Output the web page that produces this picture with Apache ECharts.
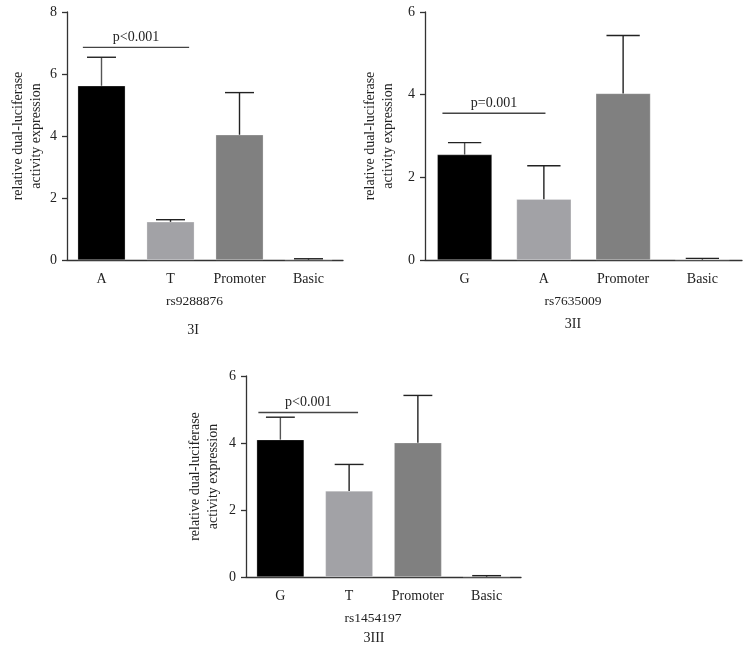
<!DOCTYPE html>
<html>
<head>
<meta charset="utf-8">
<script src="https://cdn.jsdelivr.net/npm/echarts@6/dist/echarts.min.js"></script>
<style>html,body{margin:0;padding:0;background:#fff;}#c{width:754px;height:650px;}</style>
</head>
<body>
<div id="c"></div>
<script>
// ---- data ----
const cats1 = ['A', 'T', 'Promoter', 'Basic'];
const means1 = [5.62, 1.23, 4.04, 0.01];
const errs1 = [0.92, 0.07, 1.36, 0.03];
const sig1 = { from: -0.27, to: 1.27, y: 6.86, text: 'p<0.001' };
const snp1 = 'rs9288876';
const panel1 = '3I';

const cats2 = ['G', 'A', 'Promoter', 'Basic'];
const means2 = [2.55, 1.47, 4.03, 0.01];
const errs2 = [0.29, 0.81, 1.40, 0.03];
const sig2 = { from: -0.28, to: 1.02, y: 3.55, text: 'p=0.001' };
const snp2 = 'rs7635009';
const panel2 = '3II';

const cats3 = ['G', 'T', 'Promoter', 'Basic'];
const means3 = [4.10, 2.57, 4.01, 0.01];
const errs3 = [0.67, 0.79, 1.41, 0.03];
const sig3 = { from: -0.32, to: 1.13, y: 4.91, text: 'p<0.001' };
const snp3 = 'rs1454197';
const panel3 = '3III';

const yMax = [8, 6, 6];
const yName = 'relative dual-luciferase\nactivity expression';

// ---- styles ----
const barColors = ['#000000', '#a2a2a6', '#808080', '#222222'];
const FONT = 'Liberation Serif';
const TXT = '#222';
const AX = '#333';

const panels = [
  { cats: cats1, means: means1, errs: errs1, sig: sig1, snp: snp1, label: panel1,
    grid: { left: 67, top: 12, width: 276, height: 248 }, nameGap: 22, shift: 21, lab: [193, 330] },
  { cats: cats2, means: means2, errs: errs2, sig: sig2, snp: snp2, label: panel2,
    grid: { left: 425, top: 12, width: 317, height: 248 }, nameGap: 28, shift: 21, lab: [573, 324] },
  { cats: cats3, means: means3, errs: errs3, sig: sig3, snp: snp3, label: panel3,
    grid: { left: 246, top: 376, width: 275, height: 201 }, nameGap: 24, shift: 21, lab: [374, 638] }
];

const grids = [], xAxes = [], yAxes = [], series = [], graphics = [];
panels.forEach((p, k) => {
  grids.push(Object.assign({ containLabel: false }, p.grid));
  xAxes.push({
    type: 'category', gridIndex: k, data: p.cats,
    name: p.snp, nameLocation: 'middle', nameGap: 34,
    nameTextStyle: { fontFamily: FONT, fontSize: 13.5, color: TXT, padding: [0, p.shift, 0, 0] },
    axisLine: { lineStyle: { color: AX, width: 1.3 } },
    axisTick: { alignWithLabel: true, length: 7, lineStyle: { color: AX, width: 1.3 } },
    axisLabel: { fontFamily: FONT, fontSize: 14, color: TXT, margin: 12 }
  });
  yAxes.push({
    type: 'value', gridIndex: k, min: 0, max: yMax[k], interval: 2,
    name: yName, nameLocation: 'middle', nameRotate: 90, nameGap: p.nameGap,
    nameTextStyle: { fontFamily: FONT, fontSize: 14, color: TXT, lineHeight: 18 },
    axisLine: { show: true, lineStyle: { color: AX, width: 1.3 } },
    axisTick: { show: true, length: 5, lineStyle: { color: AX, width: 1.3 } },
    axisLabel: { fontFamily: FONT, fontSize: 14, color: TXT, margin: 10 },
    splitLine: { show: false }
  });
  series.push({
    type: 'bar', xAxisIndex: k, yAxisIndex: k, barWidth: '69%',
    data: p.means.map((v, i) => ({ value: v, itemStyle: { color: barColors[i] } })),
    itemStyle: { borderColor: 'rgba(255,255,255,0.5)', borderWidth: 0.5 },
    silent: true, animation: false
  });
  series.push({
    type: 'custom', xAxisIndex: k, yAxisIndex: k,
    data: p.means.map((m, i) => [i, m, p.errs[i]]),
    encode: { x: 0, y: 1 },
    renderItem: function (params, api) {
      const i = api.value(0), m = api.value(1), e = api.value(2);
      const base = api.coord([i, m]);
      const top = api.coord([i, m + e]);
      const bw = api.size([1, 0])[0];
      const half = bw * 0.21;
      return {
        type: 'group', children: [
          { type: 'line', shape: { x1: top[0], y1: base[1], x2: top[0], y2: top[1] },
            style: { stroke: i === 0 ? '#555' : '#222', lineWidth: 1.4 } },
          { type: 'line', shape: { x1: top[0] - half, y1: top[1], x2: top[0] + half, y2: top[1] },
            style: { stroke: '#222', lineWidth: 1.4 } }
        ]
      };
    },
    z: 3, silent: true, animation: false
  });
  series.push({
    type: 'custom', xAxisIndex: k, yAxisIndex: k,
    data: [[0, p.sig.y]],
    encode: { x: 0, y: 1 },
    renderItem: function (params, api) {
      const c = api.coord([0, api.value(1)]);
      const bw = api.size([1, 0])[0];
      const x0 = c[0] + p.sig.from * bw, x1 = c[0] + p.sig.to * bw;
      return {
        type: 'group', children: [
          { type: 'line', shape: { x1: x0, y1: c[1], x2: x1, y2: c[1] },
            style: { stroke: '#444', lineWidth: 1.4 } },
          { type: 'text', x: (x0 + x1) / 2, y: c[1] - 10,
            style: { text: p.sig.text, fontFamily: FONT, fontSize: 14, fill: TXT,
                     align: 'center', verticalAlign: 'middle' } }
        ]
      };
    },
    z: 4, silent: true, animation: false
  });
  graphics.push({
    type: 'text', x: p.lab[0], y: p.lab[1],
    style: { text: p.label, fontFamily: FONT, fontSize: 14, fill: TXT, align: 'center', verticalAlign: 'middle' }
  });
});

const chart = echarts.init(document.getElementById('c'), null, { renderer: 'canvas' });
chart.setOption({
  backgroundColor: '#fff',
  animation: false,
  grid: grids, xAxis: xAxes, yAxis: yAxes, series: series,
  graphic: graphics
});
</script>
</body>
</html>
